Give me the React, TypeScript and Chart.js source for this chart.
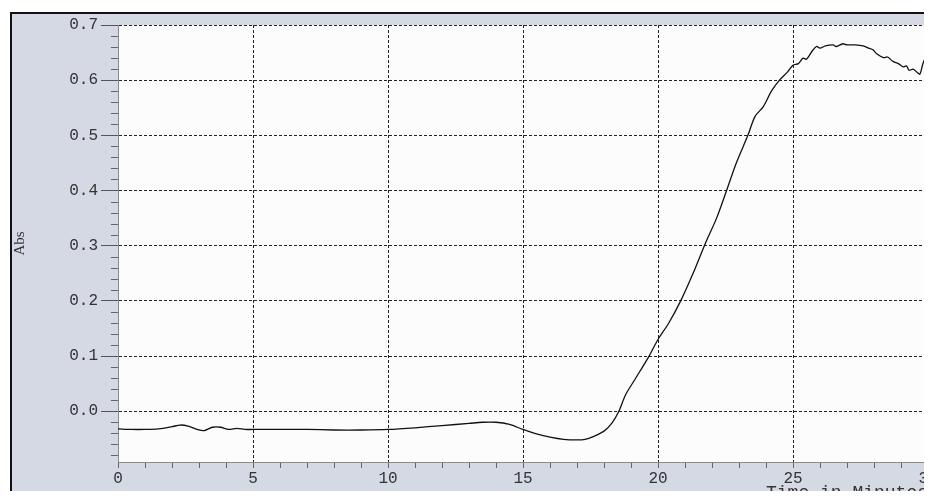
import React, { useEffect, useRef } from "react";
import { Chart, registerables } from "chart.js";

Chart.register(...registerables);

// ---- data ----
const timeMinutes = [
  0, 0.5, 1.0, 1.5, 2.0, 2.3, 2.6, 3.0, 3.2, 3.5, 3.8, 4.1, 4.4, 4.7, 5.0,
  6, 7, 8, 9, 10, 11, 12, 13, 13.5, 14, 14.5, 15, 15.5, 16, 16.5, 17, 17.3, 17.6,
  18, 18.3, 18.55, 18.8, 19.15, 19.67, 20, 20.4, 20.84, 21.3, 21.76, 22.17, 22.54,
  22.9, 23.33, 23.59, 23.9, 24.2, 24.5, 24.8, 25.0, 25.2, 25.37, 25.5, 25.7, 25.87,
  26.0, 26.2, 26.48, 26.6, 26.85, 27.0, 27.3, 27.6, 27.8, 27.96, 28.1, 28.35, 28.5,
  28.7, 28.9, 29.08, 29.2, 29.3, 29.45, 29.6, 29.7, 29.8, 29.9, 30.0,
];
const absValues = [
  -0.032, -0.033, -0.033, -0.032, -0.028, -0.025, -0.027, -0.034, -0.035, -0.029, -0.029, -0.033, -0.031, -0.033, -0.033,
  -0.033, -0.033, -0.034, -0.034, -0.033, -0.03, -0.026, -0.022, -0.02, -0.02, -0.024, -0.033, -0.041, -0.047, -0.051, -0.052, -0.051, -0.046,
  -0.036, -0.021, 0.0, 0.03, 0.058, 0.1, 0.13, 0.16, 0.2, 0.25, 0.305, 0.35, 0.4,
  0.45, 0.5, 0.534, 0.552, 0.58, 0.6, 0.615, 0.627, 0.63, 0.64, 0.638, 0.652, 0.661,
  0.658, 0.662, 0.664, 0.661, 0.666, 0.664, 0.664, 0.662, 0.658, 0.655, 0.648, 0.641, 0.642,
  0.634, 0.63, 0.624, 0.626, 0.618, 0.62, 0.614, 0.611, 0.628, 0.64, 0.642,
];

const yMajorTicks = [0, 0.1, 0.2, 0.3, 0.4, 0.5, 0.6, 0.7];
const yTickLabels = ["0.0", "0.1", "0.2", "0.3", "0.4", "0.5", "0.6", "0.7"];
const yMinorTicks = [
  -0.08, -0.06, -0.04, -0.02, 0.02, 0.04, 0.06, 0.08, 0.12, 0.14, 0.16, 0.18,
  0.22, 0.24, 0.26, 0.28, 0.32, 0.34, 0.36, 0.38, 0.42, 0.44, 0.46, 0.48,
  0.52, 0.54, 0.56, 0.58, 0.62, 0.64, 0.66, 0.68,
];
const xTicks = [
  0, 1, 2, 3, 4, 5, 6, 7, 8, 9, 10, 11, 12, 13, 14, 15,
  16, 17, 18, 19, 20, 21, 22, 23, 24, 25, 26, 27, 28, 29, 30,
];
const xTickLabels = [
  "0", "", "", "", "", "5", "", "", "", "", "10", "", "", "", "", "15",
  "", "", "", "", "20", "", "", "", "", "25", "", "", "", "", "30",
];
const xMajorTicks = [5, 10, 15, 20, 25, 30];

const CANVAS_W = 960;
const CANVAS_H = 515;
const MONO = "'Liberation Mono', 'Courier New', monospace";

export default function App() {
  const ref = useRef<HTMLCanvasElement | null>(null);

  useEffect(() => {
    if (!ref.current) return;

    const plotBg = {
      id: "plotBg",
      beforeDraw(chart: any) {
        const { ctx, chartArea: a } = chart;
        ctx.save();
        ctx.fillStyle = "#fcfcfd";
        ctx.fillRect(a.left, a.top, a.right - a.left, a.bottom - a.top);
        ctx.restore();
      },
    };

    const minorTicks = {
      id: "minorTicks",
      afterDraw(chart: any) {
        const { ctx } = chart;
        const y = chart.scales.y;
        ctx.save();
        ctx.strokeStyle = "#666";
        ctx.lineWidth = 1;
        ctx.beginPath();
        for (const v of yMinorTicks) {
          const py = Math.round(y.getPixelForValue(v)) + 0.5;
          ctx.moveTo(y.right - 7, py);
          ctx.lineTo(y.right, py);
        }
        ctx.stroke();
        ctx.restore();
      },
    };

    const chart = new Chart(ref.current, {
      type: "line",
      data: {
        datasets: [
          {
            data: timeMinutes.map((t, i) => ({ x: t, y: absValues[i] })),
            borderColor: "#111",
            borderWidth: 1.3,
            pointRadius: 0,
            tension: 0.3,
            fill: false,
          },
        ],
      },
      options: {
        responsive: false,
        animation: false,
        events: [],
        layout: { padding: { top: 25, right: CANVAS_W - 928, left: 0, bottom: 0 } },
        plugins: { legend: { display: false }, tooltip: { enabled: false } },
        scales: {
          x: {
            type: "linear",
            min: 0,
            max: 30,
            afterBuildTicks: (s: any) => {
              s.ticks = xTicks.map((v) => ({ value: v }));
            },
            afterFit: (s: any) => {
              s.height = CANVAS_H - 462;
            },
            ticks: {
              autoSkip: false,
              maxRotation: 0,
              minRotation: 0,
              padding: 1,
              color: "#333",
              font: { family: MONO, size: 16 },
              callback: (_v: any, i: number) => xTickLabels[i],
            },
            grid: {
              color: (ctx: any) =>
                ctx.tick && xMajorTicks.includes(ctx.tick.value) ? "#222" : "rgba(0,0,0,0)",
              borderDash: [3, 2],
              tickColor: "#666",
              tickLength: 6,
              lineWidth: 1,
            },
            border: { display: true, color: "#8a8a8a", width: 1, dash: [3, 2] },
            title: {
              display: true,
              text: "Time in Minutes",
              align: "end",
              color: "#333",
              font: { family: MONO, size: 18 },
              padding: { top: 0, bottom: 11 },
            },
          },
          y: {
            type: "linear",
            min: -0.092,
            max: 0.7,
            afterBuildTicks: (s: any) => {
              s.ticks = yMajorTicks.map((v) => ({ value: v }));
            },
            afterFit: (s: any) => {
              s.width = 118;
            },
            ticks: {
              padding: 3,
              color: "#333",
              font: { family: MONO, size: 16 },
              callback: (_v: any, i: number) => yTickLabels[i],
            },
            grid: {
              color: "#222",
              borderDash: [3, 2],
              tickColor: "#555",
              tickLength: 17,
              lineWidth: 1,
            },
            border: { display: true, color: "#8a8a8a", width: 1, dash: [3, 2] },
            title: {
              display: true,
              text: "Abs",
              color: "#333",
              font: { family: "'Liberation Serif', serif", size: 15 },
              padding: { top: 11, bottom: 0 },
            },
          },
        },
      },
      plugins: [plotBg, minorTicks],
    } as any);

    return () => chart.destroy();
  }, []);

  return (
    <div
      style={{
        margin: -8,
        width: 932,
        height: 499,
        overflow: "hidden",
        position: "relative",
        background: "#ffffff",
      }}
    >
      <div
        style={{
          position: "absolute",
          left: 10,
          top: 12,
          width: 960,
          height: 520,
          background: "#d5d9e4",
          borderTop: "2px solid #111",
          borderLeft: "2px solid #111",
        }}
      />
      <canvas
        ref={ref}
        width={CANVAS_W}
        height={CANVAS_H}
        style={{ position: "absolute", left: 0, top: 0, width: CANVAS_W, height: CANVAS_H }}
      />
    </div>
  );
}
